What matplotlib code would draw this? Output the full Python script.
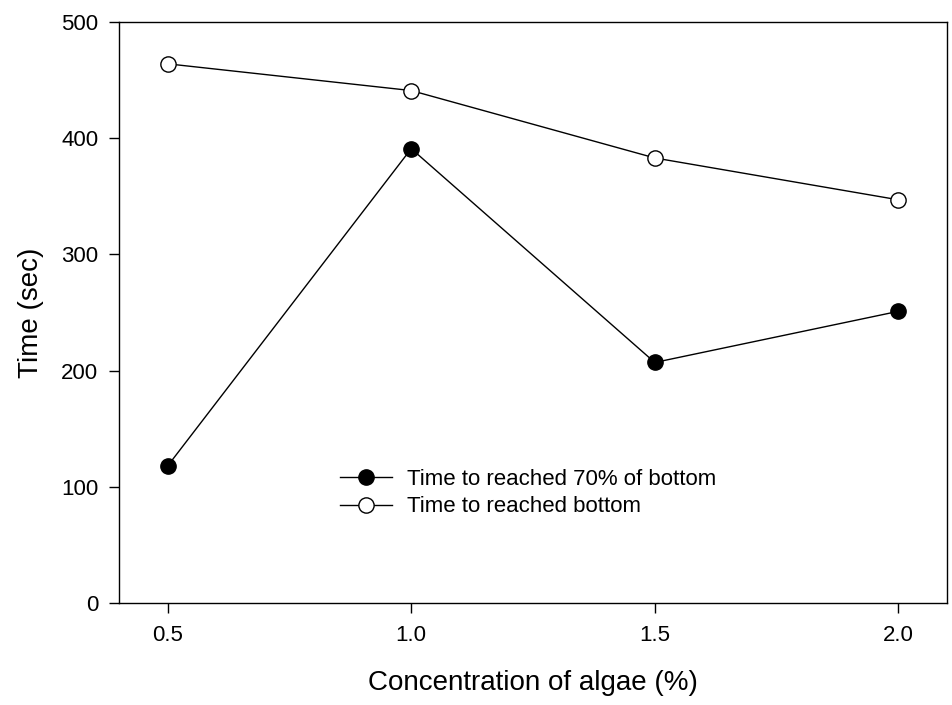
import matplotlib
matplotlib.use("Agg")
import matplotlib.pyplot as plt

plt.rcParams['font.family'] = ['Liberation Sans', 'DejaVu Sans']

concentration = [0.5, 1.0, 1.5, 2.0]
time_70 = [118, 391, 207, 251]
time_bottom = [464, 441, 383, 347]
labels = ["Time to reached 70% of bottom", "Time to reached bottom"]
xticks = [0.5, 1.0, 1.5, 2.0]
xticklabels = ["0.5", "1.0", "1.5", "2.0"]
yticks = [0, 100, 200, 300, 400, 500]

fig = plt.figure(figsize=(9.53, 7.05), dpi=100)
ax = fig.add_axes([119/953, 1-603/705, (947-119)/953, (603-22)/705])

ax.plot(concentration, time_70, color='black', lw=1, marker='o', ms=11,
        mfc='black', mec='black', label=labels[0])
ax.plot(concentration, time_bottom, color='black', lw=1, marker='o', ms=11,
        mfc='white', mec='black', mew=1, label=labels[1])

ax.set_xlim(0.4, 2.1)
ax.set_ylim(0, 500)
ax.set_xticks(xticks)
ax.set_xticklabels(xticklabels)
ax.set_yticks(yticks)
ax.tick_params(direction='out', length=7, width=1, labelsize=16)
ax.tick_params(axis='x', pad=9)
ax.tick_params(axis='y', pad=8)
for s in ax.spines.values():
    s.set_linewidth(1)

ax.set_xlabel("Concentration of algae (%)", fontsize=20, labelpad=17)
ax.set_ylabel("Time (sec)", fontsize=20, labelpad=12)

ax.legend(loc='upper left', bbox_to_anchor=(0.267, 0.231), frameon=False,
          fontsize=16, borderpad=0, borderaxespad=0, handlelength=2.35,
          handletextpad=0.68, labelspacing=0.3)

fig.savefig("out.png", dpi=100)
